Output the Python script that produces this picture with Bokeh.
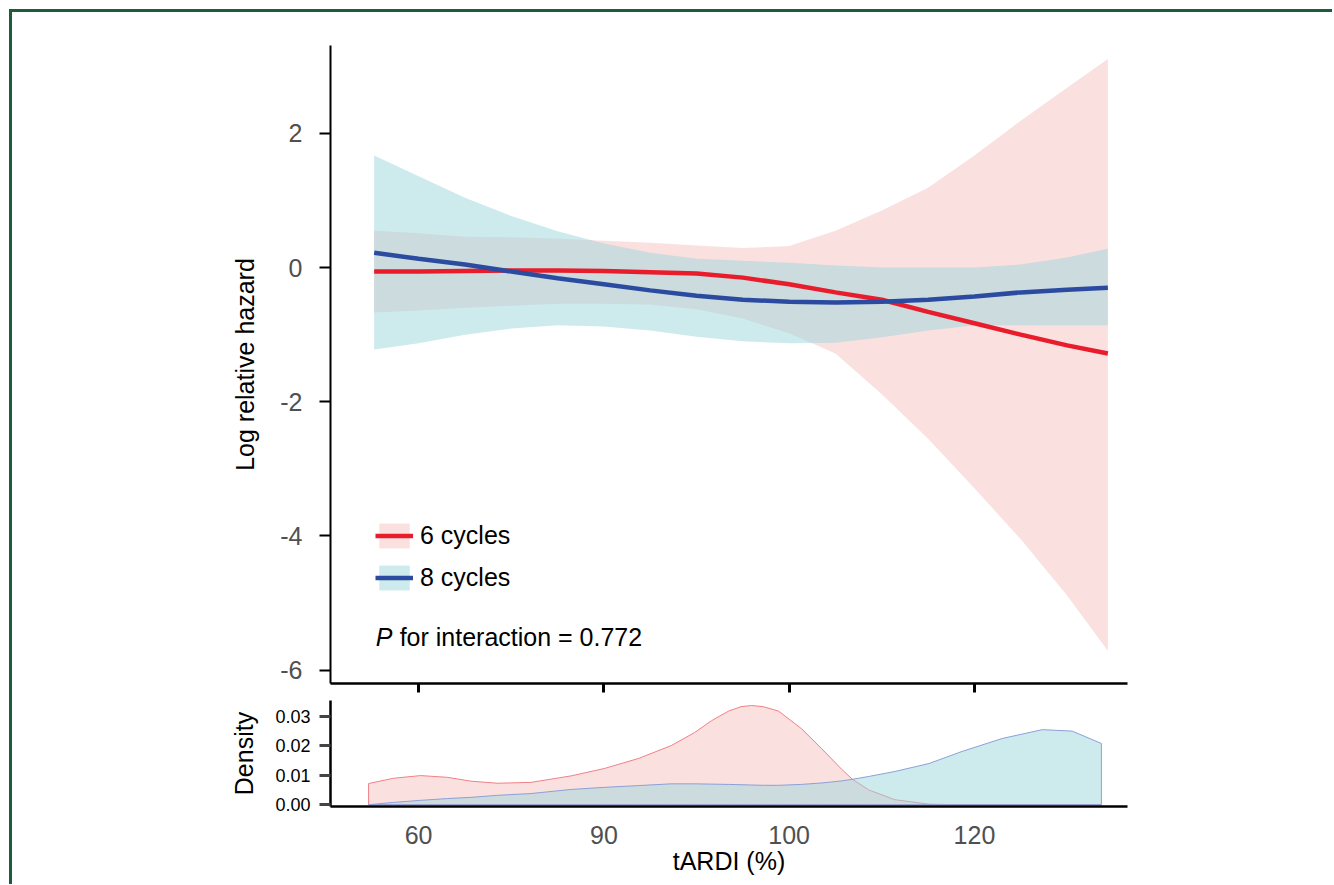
from bokeh.plotting import figure
from bokeh.layouts import column
from bokeh.models import Range1d, FixedTicker, Legend, LegendItem, Label
from bokeh.embed import file_html
from bokeh.resources import INLINE

# ---------------- data ----------------
# x positions are tick-index units (the axis shows 60, 90, 100, 120 at equal spacing)
x_tick_pos = [0, 1, 2, 3]
x_tick_labels = ["60", "90", "100", "120"]

haz_x = [-0.24, 0.0, 0.25, 0.5, 0.75, 1.0, 1.25, 1.5, 1.75, 2.0, 2.25, 2.5, 2.75, 3.0, 3.25, 3.5, 3.72]
red_fit = [-0.06, -0.06, -0.05, -0.045, -0.045, -0.05, -0.07, -0.09, -0.15, -0.25, -0.37, -0.48, -0.66, -0.83, -1.00, -1.16, -1.28]
red_upper = [0.55, 0.51, 0.46, 0.45, 0.43, 0.40, 0.37, 0.33, 0.29, 0.32, 0.55, 0.85, 1.19, 1.67, 2.19, 2.68, 3.11]
red_lower = [-0.67, -0.64, -0.60, -0.57, -0.54, -0.54, -0.55, -0.62, -0.76, -0.98, -1.28, -1.89, -2.55, -3.29, -4.05, -4.89, -5.71]
blue_fit = [0.22, 0.13, 0.045, -0.06, -0.16, -0.25, -0.34, -0.42, -0.48, -0.51, -0.52, -0.51, -0.48, -0.43, -0.37, -0.33, -0.30]
blue_upper = [1.67, 1.36, 1.04, 0.77, 0.54, 0.36, 0.22, 0.13, 0.10, 0.07, 0.03, 0.0, 0.0, 0.0, 0.045, 0.15, 0.28]
blue_lower = [-1.22, -1.13, -1.00, -0.91, -0.86, -0.88, -0.94, -1.03, -1.10, -1.13, -1.12, -1.04, -0.94, -0.86, -0.86, -0.86, -0.86]

dens_x = [-0.27, -0.135, 0.011, 0.157, 0.282, 0.428, 0.607, 0.823, 1.002, 1.186, 1.364, 1.489, 1.58, 1.673,
          1.74, 1.797, 1.86, 1.943, 2.067, 2.176, 2.284, 2.338, 2.430, 2.571, 2.755, 2.933, 3.150, 3.366, 3.528, 3.685]
dens_6 = [0.0072, 0.0090, 0.0099, 0.0093, 0.0080, 0.0073, 0.0076, 0.0098, 0.0123, 0.0157, 0.0201, 0.0245, 0.0285, 0.0318,
          0.0333, 0.0337, 0.0333, 0.0318, 0.0258, 0.0190, 0.0120, 0.0088, 0.0050, 0.0017, 0.0002, 0.0, 0.0, 0.0, 0.0, 0.0]
dens_8 = [0.0, 0.0008, 0.0015, 0.0021, 0.0025, 0.0032, 0.0038, 0.0052, 0.0059, 0.0065, 0.0071, 0.0071, 0.0070, 0.0069,
          0.0068, 0.0067, 0.0066, 0.0066, 0.0069, 0.0074, 0.0081, 0.0086, 0.0096, 0.0113, 0.0140, 0.0181, 0.0225, 0.0255, 0.0250, 0.0208]

haz_ticks = [-6, -4, -2, 0, 2]
haz_tick_labels = ["-6", "-4", "-2", "0", "2"]
dens_ticks = [0.0, 0.01, 0.02, 0.03]
dens_tick_labels = ["0.00", "0.01", "0.02", "0.03"]

series_names = ["6 cycles", "8 cycles"]
p_text = "for interaction = 0.772"

# ---------------- style ----------------
FONT = "Liberation Sans"
RED = "#e81c2a"
BLUE = "#2a4ba0"
PINK_FILL = "#f7c1c1"
TEAL_FILL = "#9bd5db"
GRAY_TXT = "#505050"

x_rng = Range1d(-0.4756, 3.826)

p1 = figure(width=1320, height=688, x_range=x_rng, y_range=Range1d(-6.2, 3.31),
            output_backend="svg", toolbar_location=None,
            min_border_left=318, min_border_right=205, min_border_top=33, min_border_bottom=17)
p1.outline_line_color = None
p1.grid.visible = False

rb = p1.varea(x=haz_x, y1=red_lower, y2=red_upper, fill_color=PINK_FILL, fill_alpha=0.5)
bb = p1.varea(x=haz_x, y1=blue_lower, y2=blue_upper, fill_color=TEAL_FILL, fill_alpha=0.5)
rl = p1.line(x=haz_x, y=red_fit, line_color=RED, line_width=4.5)
bl = p1.line(x=haz_x, y=blue_fit, line_color=BLUE, line_width=4.5)

# x axis (top panel): tick marks only (drawn as minor ticks, which carry no labels)
xa = p1.xaxis[0]
xa.ticker = FixedTicker(ticks=[], minor_ticks=x_tick_pos)
xa.major_tick_line_color = None
xa.minor_tick_out = 9
xa.minor_tick_in = 0
xa.minor_tick_line_width = 3
xa.minor_tick_line_color = "black"
xa.major_label_standoff = 0
xa.axis_line_width = 2.5

ya = p1.yaxis[0]
ya.ticker = FixedTicker(ticks=haz_ticks)
ya.major_label_overrides = {t: s for t, s in zip(haz_ticks, haz_tick_labels)}
ya.major_label_text_font = FONT
ya.major_label_text_font_size = "25px"
ya.major_label_text_color = GRAY_TXT
ya.major_label_standoff = 17
ya.major_tick_out = 11
ya.major_tick_in = 0
ya.major_tick_line_width = 2
ya.minor_tick_line_color = None
ya.axis_line_width = 2
ya.axis_label = "Log relative hazard"
ya.axis_label_text_font = FONT
ya.axis_label_text_font_size = "25px"
ya.axis_label_text_font_style = "normal"
ya.axis_label_text_color = "black"
ya.axis_label_standoff = 18

legend = Legend(items=[LegendItem(label=series_names[0], renderers=[rb, rl]),
                       LegendItem(label=series_names[1], renderers=[bb, bl])],
                location=(45, 90), orientation="vertical",
                glyph_width=38, glyph_height=31, label_height=31, spacing=11,
                padding=0, margin=0, label_standoff=7,
                border_line_color=None, background_fill_alpha=0,
                label_text_font=FONT, label_text_font_size="25px", label_text_color="black")
p1.add_layout(legend)

p1.add_layout(Label(x=-0.232, y=-5.50, text="P", text_font=FONT, text_font_size="25px",
                    text_font_style="italic", text_baseline="alphabetic", text_color="black"))
p1.add_layout(Label(x=-0.232, y=-5.50, x_offset=24, text=p_text, text_font=FONT, text_font_size="25px",
                    text_baseline="alphabetic", text_color="black"))

# ---------------- density panel ----------------
p2 = figure(width=1320, height=184, x_range=x_rng, y_range=Range1d(-0.0006, 0.0354),
            output_backend="svg", toolbar_location=None,
            min_border_left=318, min_border_right=205, min_border_top=0, min_border_bottom=78)
p2.outline_line_color = None
p2.grid.visible = False

zeros = [0.0] * len(dens_x)
p2.patch(x=dens_x + dens_x[::-1], y=dens_6 + zeros[::-1], fill_color=PINK_FILL, fill_alpha=0.5,
         line_color="#f08088", line_width=1)
p2.patch(x=dens_x + dens_x[::-1], y=dens_8 + zeros[::-1], fill_color=TEAL_FILL, fill_alpha=0.5,
         line_color="#8ca0d8", line_width=1)

xa2 = p2.xaxis[0]
xa2.ticker = FixedTicker(ticks=x_tick_pos)
xa2.major_label_overrides = {t: s for t, s in zip(x_tick_pos, x_tick_labels)}
xa2.major_label_text_font = FONT
xa2.major_label_text_font_size = "25px"
xa2.major_label_text_color = GRAY_TXT
xa2.major_label_standoff = 19
xa2.major_tick_out = 0
xa2.major_tick_in = 0
xa2.major_tick_line_color = None
xa2.minor_tick_line_color = None
xa2.axis_line_width = 2.5
xa2.axis_label = "tARDI (%)"
xa2.axis_label_text_font = FONT
xa2.axis_label_text_font_size = "25px"
xa2.axis_label_text_font_style = "normal"
xa2.axis_label_text_color = "black"
xa2.axis_label_standoff = 0

ya2 = p2.yaxis[0]
ya2.ticker = FixedTicker(ticks=dens_ticks)
ya2.major_label_overrides = {t: s for t, s in zip(dens_ticks, dens_tick_labels)}
ya2.major_label_text_font = FONT
ya2.major_label_text_font_size = "18px"
ya2.major_label_text_color = "black"
ya2.major_label_standoff = 9
ya2.major_tick_out = 11
ya2.major_tick_in = 0
ya2.major_tick_line_width = 3
ya2.major_tick_line_color = "#444444"
ya2.minor_tick_line_color = None
ya2.axis_line_width = 2.5
ya2.axis_label = "Density"
ya2.axis_label_text_font = FONT
ya2.axis_label_text_font_size = "25px"
ya2.axis_label_text_font_style = "normal"
ya2.axis_label_text_color = "black"
ya2.axis_label_standoff = 14

layout = column(p1, p2, spacing=0,
                styles={"margin-left": "9px", "margin-top": "9px",
                        "border-top": "3px solid #1e5b3b", "border-left": "3px solid #1e5b3b"})

open("out.html", "w").write(file_html(layout, INLINE))
